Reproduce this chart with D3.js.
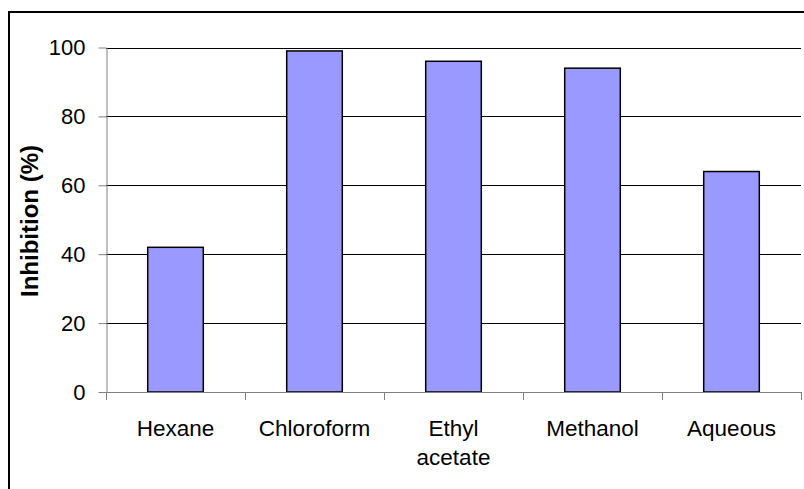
<!DOCTYPE html>
<html>
<head>
<meta charset="utf-8">
<script src="https://cdn.jsdelivr.net/npm/d3@7"></script>
<style>
html,body{margin:0;padding:0;background:#fff;}
svg{display:block;}
text{font-family:"Liberation Sans",Arial,sans-serif;fill:#000;}
</style>
</head>
<body>
<svg id="chart" width="804" height="489"></svg>
<script>
const categories = ["Hexane", "Chloroform", "Ethyl acetate", "Methanol", "Aqueous"];
const categoryLines = [["Hexane"], ["Chloroform"], ["Ethyl", "acetate"], ["Methanol"], ["Aqueous"]];
const inhibition = [42, 99, 96, 94, 64];
const yTicks = [0, 20, 40, 60, 80, 100];
const yTitle = "Inhibition (%)";

const svg = d3.select("#chart");
const W = 804, H = 489;
const m = {left: 106, right: 3, top: 47.5, bottom: 97};

// outer border
svg.append("rect").attr("x", 9).attr("y", 12).attr("width", W).attr("height", H)
  .attr("fill", "none").attr("stroke", "#000").attr("stroke-width", 2);

const x = d3.scaleBand().domain(categories).range([m.left, W - m.right]).padding(0);
const y = d3.scaleLinear().domain([0, 100]).range([H - m.bottom, m.top]);

// gridlines
svg.append("g").selectAll("line").data(yTicks.filter(d => d > 0)).join("line")
  .attr("x1", m.left).attr("x2", W - m.right)
  .attr("y1", d => Math.round(y(d)) + 0.5).attr("y2", d => Math.round(y(d)) + 0.5)
  .attr("stroke", "#000").attr("stroke-width", 1);

// bars
const bw = x.bandwidth() * 0.4;
svg.append("g").selectAll("rect").data(inhibition).join("rect")
  .attr("x", (d, i) => x(categories[i]) + (x.bandwidth() - bw) / 2)
  .attr("y", d => y(d))
  .attr("width", bw)
  .attr("height", d => y(0) - y(d))
  .attr("fill", "#9999FF").attr("stroke", "#000").attr("stroke-width", 1.5);

// y axis
const yAxis = d3.axisLeft(y).tickValues(yTicks).tickSize(8).tickPadding(13).tickSizeOuter(0);
const gy = svg.append("g").attr("transform", `translate(${m.left + 0.5},0)`).call(yAxis);
gy.select(".domain").attr("stroke", "#808080");
gy.selectAll(".tick line").attr("stroke", "#808080");
gy.selectAll(".tick text").style("font-size", "22px").attr("font-family", null);

// x axis
const xTickVals = categories.map(c => x(c)).concat([W - m.right]);
svg.append("line").attr("x1", m.left).attr("x2", W - m.right)
  .attr("y1", Math.round(y(0)) + 0.5).attr("y2", Math.round(y(0)) + 0.5)
  .attr("stroke", "#808080").attr("stroke-width", 1);
svg.append("g").selectAll("line").data(xTickVals).join("line")
  .attr("x1", d => Math.round(d) + 0.5).attr("x2", d => Math.round(d) + 0.5)
  .attr("y1", Math.round(y(0))).attr("y2", Math.round(y(0)) + 8)
  .attr("stroke", "#808080");

// category labels
const lab = svg.append("g").selectAll("text").data(categoryLines).join("text")
  .attr("x", (d, i) => x(categories[i]) + x.bandwidth() / 2)
  .attr("y", y(0) + 44)
  .attr("text-anchor", "middle").style("font-size", "22.5px");
lab.selectAll("tspan").data(d => d).join("tspan")
  .attr("x", function() { return d3.select(this.parentNode).attr("x"); })
  .attr("dy", (d, i) => i === 0 ? 0 : "1.28em")
  .text(d => d);

// y title
svg.append("text")
  .attr("transform", `translate(37.5,221) rotate(-90)`)
  .attr("text-anchor", "middle")
  .style("font-size", "24px").style("font-weight", "bold")
  .text(yTitle);
</script>
</body>
</html>
